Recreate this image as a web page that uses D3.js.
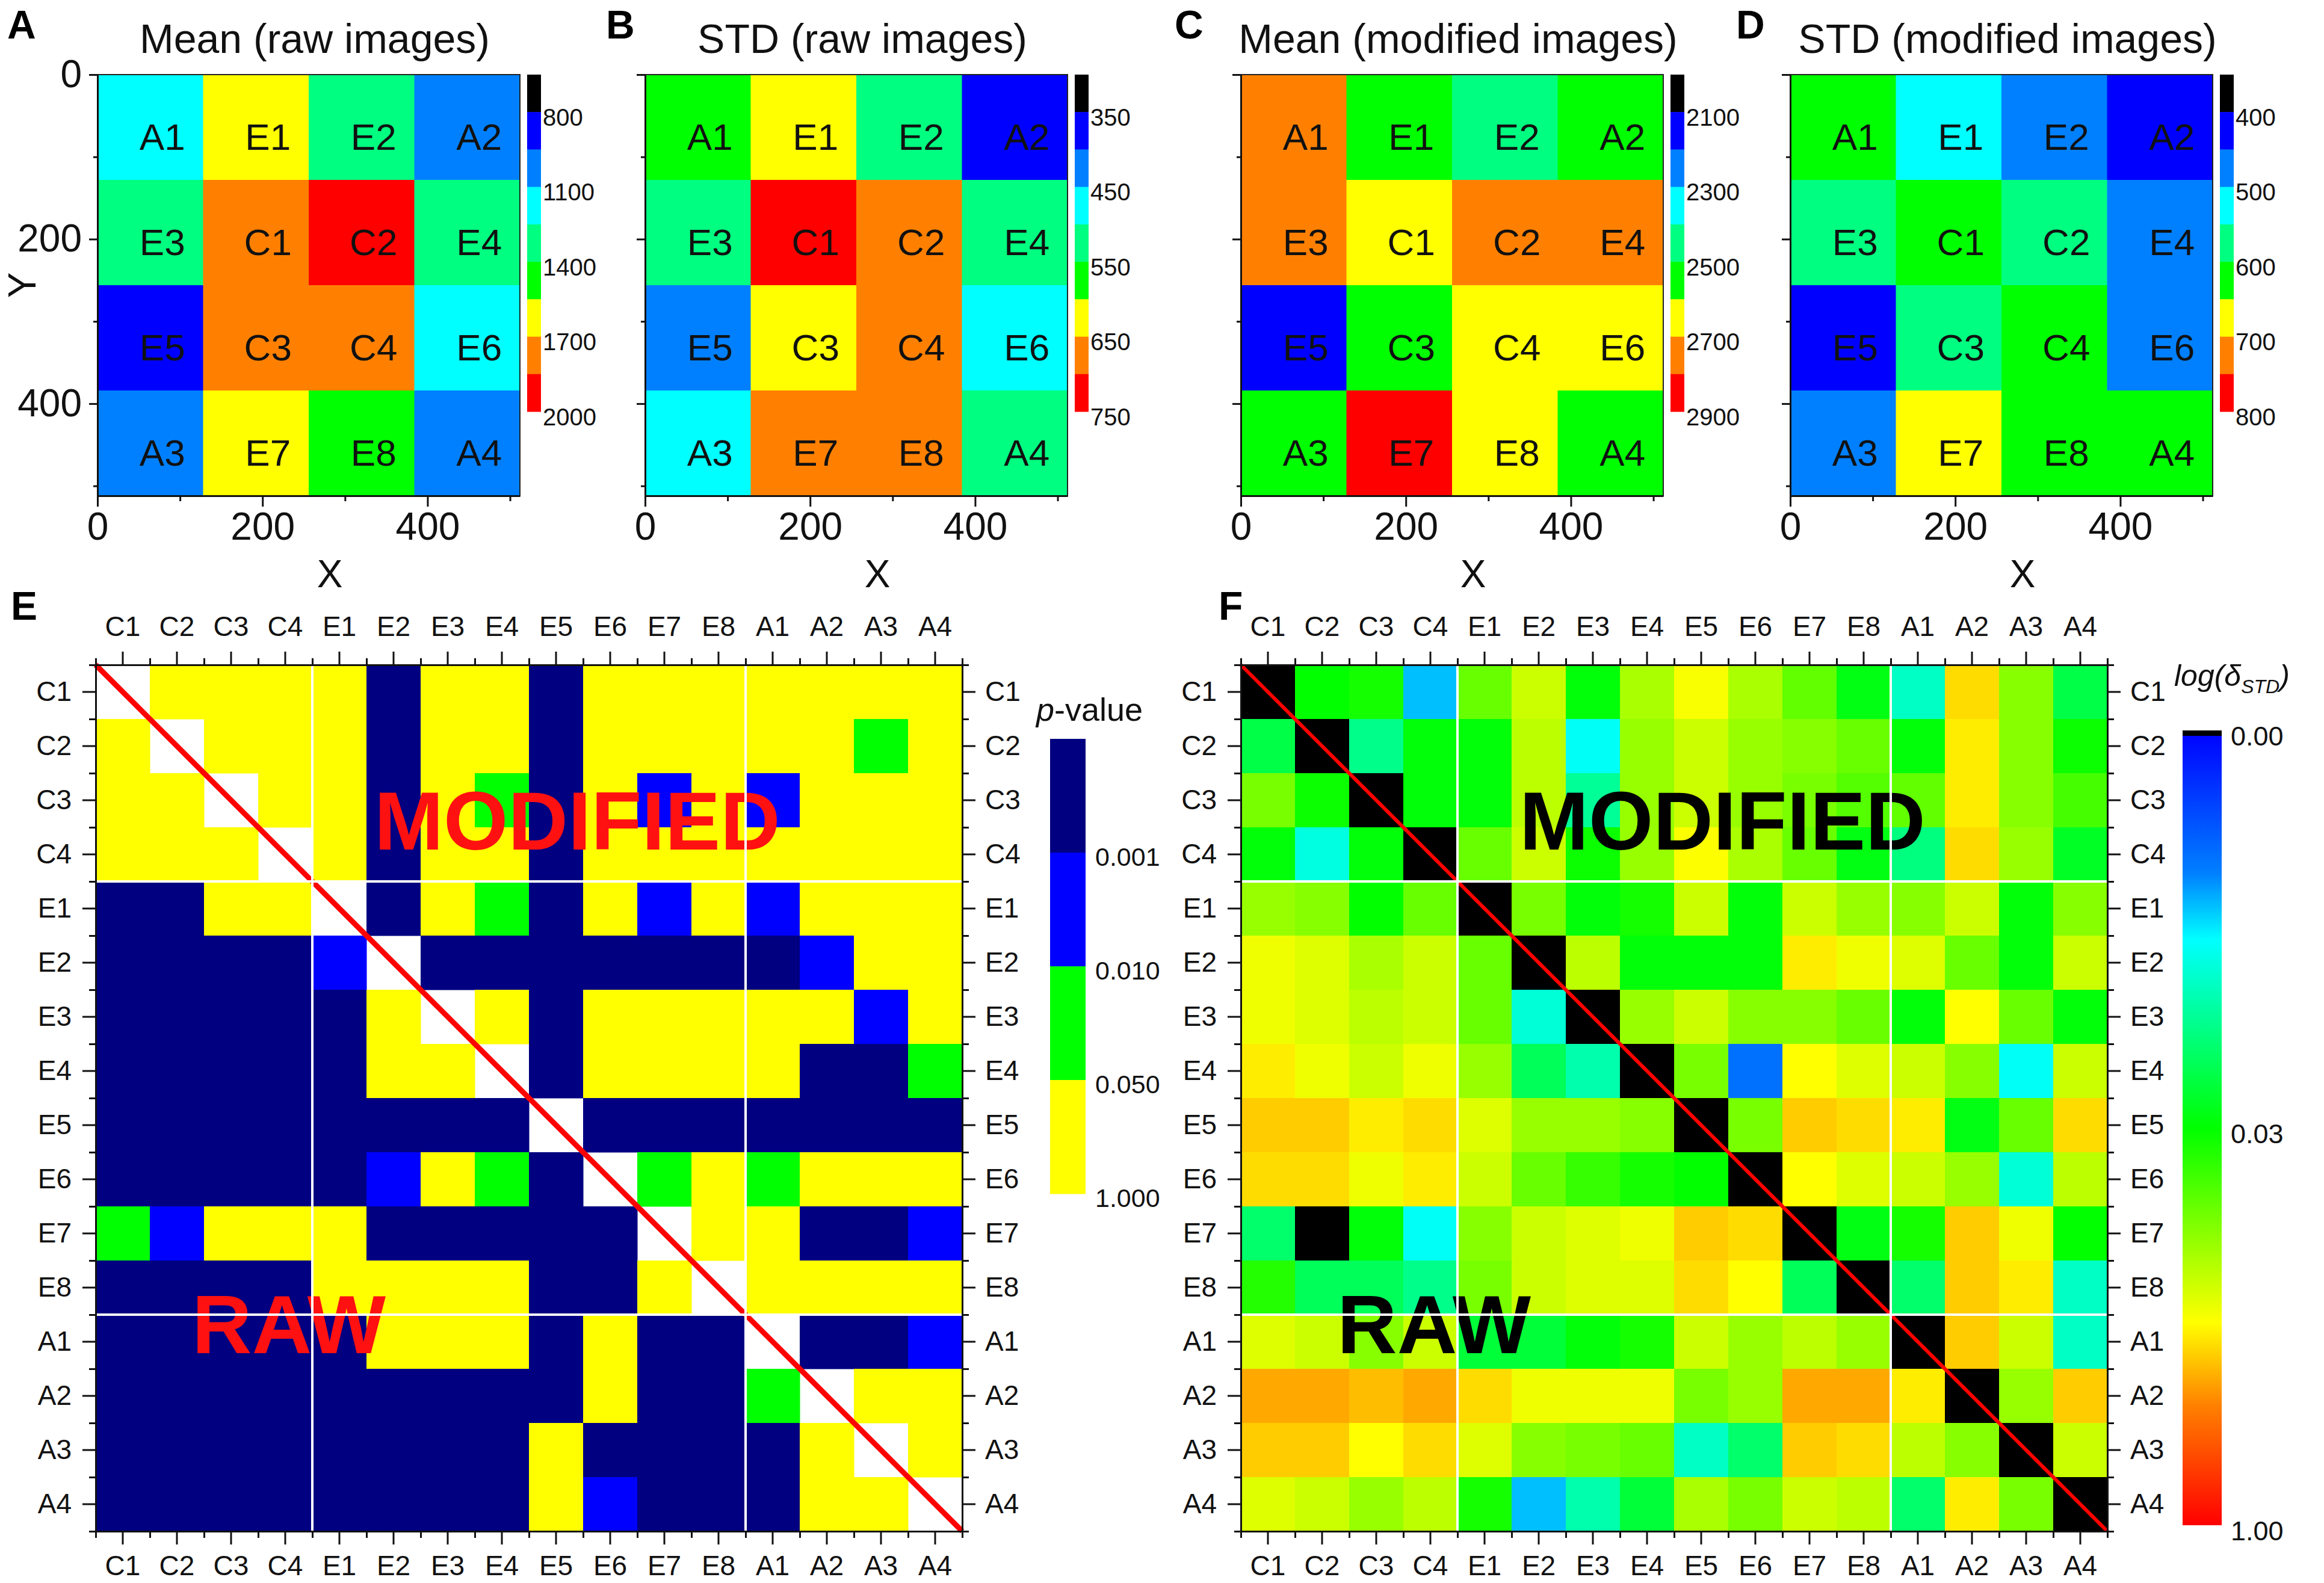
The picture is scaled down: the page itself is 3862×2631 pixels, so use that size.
<!DOCTYPE html>
<html>
<head>
<meta charset="utf-8">
<script src="https://cdn.jsdelivr.net/npm/d3@7"></script>
<style>
body { margin: 0; background: #fff; }
svg { display: block; }
</style>
</head>
<body>
<script>
// 4x4 layout of the sites, top row first (y = 0 at the top)
var gridNames = [["A1","E1","E2","A2"],["E3","C1","C2","E4"],["E5","C3","C4","E6"],["A3","E7","E8","A4"]];

// panel values
var meanRaw = [[1180,1620,1320,1020],[1330,1780,1920,1310],[880,1760,1770,1170],[1030,1610,1480,1010]];
var stdRaw  = [[575,625,530,380],[525,720,675,530],[430,620,670,470],[475,680,675,530]];
var meanMod = [[2750,2550,2460,2540],[2740,2650,2730,2720],[2160,2560,2660,2640],[2550,2840,2650,2560]];
var stdMod  = [[620,520,475,430],[575,625,570,480],[420,580,615,470],[480,670,620,630]];

var meanRawTicks = [800,1100,1400,1700,2000];
var stdRawTicks  = [350,450,550,650,750];
var meanModTicks = [2100,2300,2500,2700,2900];
var stdModTicks  = [400,500,600,700,800];
var xyTicks = [0,200,400];
var xyMinor = [100,300,500];

var matrixSites = ["C1","C2","C3","C4","E1","E2","E3","E4","E5","E6","E7","E8","A1","A2","A3","A4"];

// p-values: upper triangle = modified, lower = raw (null on the diagonal)
var pvalueRows = [
  [null,.4,.4,.4,.4,.0005,.4,.4,.0005,.4,.4,.4,.4,.4,.4,.4],
  [.4,null,.4,.4,.4,.0005,.4,.4,.0005,.4,.4,.4,.4,.4,.03,.4],
  [.4,.4,null,.4,.4,.0005,.4,.03,.0005,.4,.005,.4,.005,.4,.4,.4],
  [.4,.4,.4,null,.4,.0005,.4,.4,.0005,.4,.4,.4,.4,.4,.4,.4],
  [.0005,.0005,.4,.4,null,.0005,.4,.03,.0005,.4,.005,.4,.005,.4,.4,.4],
  [.0005,.0005,.0005,.0005,.005,null,.0005,.0005,.0005,.0005,.0005,.0005,.0005,.005,.4,.4],
  [.0005,.0005,.0005,.0005,.0005,.4,null,.4,.0005,.4,.4,.4,.4,.4,.005,.4],
  [.0005,.0005,.0005,.0005,.0005,.4,.4,null,.0005,.4,.4,.4,.4,.0005,.0005,.03],
  [.0005,.0005,.0005,.0005,.0005,.0005,.0005,.0005,null,.0005,.0005,.0005,.0005,.0005,.0005,.0005],
  [.0005,.0005,.0005,.0005,.0005,.005,.4,.03,.0005,null,.03,.4,.03,.4,.4,.4],
  [.03,.005,.4,.4,.4,.0005,.0005,.0005,.0005,.0005,null,.4,.4,.0005,.0005,.005],
  [.0005,.0005,.0005,.0005,.4,.4,.4,.4,.0005,.0005,.4,null,.4,.4,.4,.4],
  [.0005,.0005,.0005,.0005,.0005,.4,.4,.4,.0005,.4,.0005,.0005,null,.0005,.0005,.005],
  [.0005,.0005,.0005,.0005,.0005,.0005,.0005,.0005,.0005,.4,.0005,.0005,.03,null,.4,.4],
  [.0005,.0005,.0005,.0005,.0005,.0005,.0005,.0005,.4,.0005,.0005,.0005,.0005,.4,null,.4],
  [.0005,.0005,.0005,.0005,.0005,.0005,.0005,.0005,.4,.005,.0005,.0005,.0005,.4,.4,null]
];
var pBreaks = [0,0.001,0.01,0.05,1];

// delta_STD: upper triangle = modified, lower = raw (0 on the diagonal)
var deltaRows = [
  [0,.032,.036,.0046,.063,.122,.030,.098,.165,.098,.060,.028,.009,.21,.078,.020],
  [.020,0,.013,.030,.030,.11,.0065,.087,.122,.087,.078,.063,.030,.19,.078,.034],
  [.070,.034,0,.030,.030,.11,.012,.087,.122,.087,.070,.055,.060,.19,.078,.050],
  [.030,.0075,.030,0,.063,.122,.034,.087,.17,.098,.063,.028,.014,.21,.087,.025],
  [.087,.078,.032,.063,0,.070,.030,.036,.122,.030,.122,.087,.078,.122,.030,.078],
  [.155,.137,.098,.122,.063,0,.11,.030,.030,.030,.19,.155,.137,.063,.030,.122],
  [.155,.137,.11,.122,.063,.008,0,.087,.122,.078,.078,.063,.030,.172,.063,.030],
  [.19,.155,.122,.155,.087,.018,.0105,0,.070,.003,.172,.137,.122,.078,.0065,.122],
  [.23,.23,.19,.21,.137,.087,.087,.078,0,.070,.23,.21,.19,.028,.063,.21],
  [.21,.21,.155,.19,.122,.063,.045,.036,.032,0,.172,.137,.122,.087,.008,.11],
  [.016,0,.030,.0065,.078,.122,.137,.155,.23,.21,0,.028,.036,.23,.155,.032],
  [.040,.018,.018,.013,.070,.122,.137,.137,.21,.172,.018,0,.016,.23,.19,.009],
  [.137,.122,.078,.122,.022,.022,.030,.036,.122,.087,.11,.087,0,.23,.122,.009],
  [.28,.28,.25,.28,.21,.155,.155,.155,.070,.087,.28,.28,.19,0,.087,.23],
  [.23,.23,.172,.21,.137,.078,.070,.063,.009,.016,.23,.21,.11,.078,0,.122],
  [.137,.122,.087,.11,.036,.0046,.0105,.022,.098,.070,.122,.11,.016,.19,.070,0]
];
var deltaTicks = [0.001,0.0316,1];

var font = '"Liberation Sans", Arial, Helvetica, sans-serif';
var bandColors = ["#000000","#0000ff","#0080ff","#00ffff","#00ff80","#00ff00","#ffff00","#ff8000","#ff0000"];
var pColors = ["#000080","#0000ff","#00ff00","#ffff00"];
var rainbowStops = [0,0.18,0.263,0.5,0.745,0.85,1];
var rainbowColors = ["#0000ff","#0080ff","#00ffff","#00ff00","#ffff00","#ff8000","#ff0000"];

var svg = d3.select("body").append("svg")
    .attr("width", 3862).attr("height", 2631)
    .attr("font-family", font);
svg.append("rect").attr("width", 3862).attr("height", 2631).attr("fill", "#fff");
var defs = svg.append("defs");

function styleAxis(g, size) {
  g.attr("font-size", size).attr("font-family", font);
  g.select("path.domain").attr("stroke", "#111").attr("stroke-width", 3);
  g.selectAll(".tick line").attr("stroke", "#111").attr("stroke-width", 3);
  g.selectAll(".tick text").attr("fill", "#111");
  return g;
}

function panelLetter(txt, x, y) {
  svg.append("text").attr("x", x).attr("y", y).attr("font-size", 66)
    .attr("font-weight", "bold").text(txt);
}

// ---------- top row: A-D ----------
var topPanels = [
  {letter:"A", lx:12,   title:"Mean (raw images)",      values:meanRaw, ticks:meanRawTicks, x0:162,  ylab:true},
  {letter:"B", lx:1007, title:"STD (raw images)",       values:stdRaw,  ticks:stdRawTicks,  x0:1072},
  {letter:"C", lx:1952, title:"Mean (modified images)", values:meanMod, ticks:meanModTicks, x0:2062},
  {letter:"D", lx:2885, title:"STD (modified images)",  values:stdMod,  ticks:stdModTicks,  x0:2975}
];

topPanels.forEach(function(p) {
  var w = 702, h = 700, top = 124;
  var x = d3.scaleLinear().domain([0, 512]).range([p.x0, p.x0 + w]);
  var y = d3.scaleLinear().domain([0, 512]).range([top, top + h]);
  var step = (p.ticks[1] - p.ticks[0]) / 2;
  var color = d3.scaleThreshold()
      .domain(d3.range(p.ticks[0], p.ticks[4] - step / 2, step))
      .range(bandColors);

  var cells = [];
  gridNames.forEach(function(row, r) {
    row.forEach(function(name, c) { cells.push({name: name, r: r, c: c, v: p.values[r][c]}); });
  });
  var g = svg.append("g");
  g.selectAll("rect.cell").data(cells).enter().append("rect")
    .attr("x", function(d){ return x(d.c * 128); })
    .attr("y", function(d){ return y(d.r * 128); })
    .attr("width", x(128) - x(0) + 0.5)
    .attr("height", y(128) - y(0) + 0.5)
    .attr("fill", function(d){ return color(d.v); });
  g.selectAll("text.cell").data(cells).enter().append("text")
    .attr("x", function(d){ return x(d.c * 128 + 64) + 20; })
    .attr("y", function(d){ return y(d.r * 128 + 64) + 15; })
    .attr("dy", "0.36em").attr("text-anchor", "middle")
    .attr("font-size", 62).attr("fill", "#111")
    .text(function(d){ return d.name; });

  g.append("rect").attr("x", p.x0).attr("y", top).attr("width", w).attr("height", h)
    .attr("fill", "none").attr("stroke", "#222").attr("stroke-width", 2);

  var xa = g.append("g").attr("transform", "translate(0," + (top + h) + ")")
    .call(d3.axisBottom(x).tickValues(xyTicks).tickSize(18).tickSizeOuter(0).tickPadding(10));
  styleAxis(xa, 64);
  var xm = g.append("g").attr("transform", "translate(0," + (top + h) + ")")
    .call(d3.axisBottom(x).tickValues(xyMinor).tickSize(9).tickFormat(""));
  styleAxis(xm, 64).select("path.domain").remove();

  var ya = g.append("g").attr("transform", "translate(" + p.x0 + ",0)")
    .call(d3.axisLeft(y).tickValues(xyTicks).tickSize(14).tickSizeOuter(0).tickPadding(12)
      .tickFormat(p.ylab ? d3.format("d") : ""));
  styleAxis(ya, 64);
  var ym = g.append("g").attr("transform", "translate(" + p.x0 + ",0)")
    .call(d3.axisLeft(y).tickValues(xyMinor).tickSize(7).tickFormat(""));
  styleAxis(ym, 64).select("path.domain").remove();

  // colour bar
  var cbx = p.x0 + w + 12, cbw = 23;
  var cy = d3.scaleLinear().domain([p.ticks[0] - step, p.ticks[4]]).range([top, top + 560]);
  g.selectAll("rect.band").data(d3.range(p.ticks[0] - step, p.ticks[4] - step / 2, step)).enter().append("rect")
    .attr("x", cbx).attr("width", cbw)
    .attr("y", function(b){ return cy(b); })
    .attr("height", function(b){ return cy(b + step) - cy(b) + 0.5; })
    .attr("fill", function(b){ return color(b + step / 2); });
  var ca = g.append("g").attr("transform", "translate(" + (cbx + cbw) + ",0)")
    .call(d3.axisRight(cy).tickValues(p.ticks).tickSize(0).tickPadding(3).tickFormat(d3.format("d")));
  styleAxis(ca, 40);
  ca.select("path.domain").remove();
  ca.selectAll(".tick text").attr("dy", "0.55em");

  g.append("text").attr("x", p.x0 + w / 2 + 10).attr("y", 88)
    .attr("text-anchor", "middle").attr("font-size", 68).attr("fill", "#111").text(p.title);
  g.append("text").attr("x", p.x0 + w / 2 + 35).attr("y", 976)
    .attr("text-anchor", "middle").attr("font-size", 64).attr("fill", "#111").text("X");
  if (p.ylab) {
    g.append("text").attr("transform", "translate(36," + (top + h / 2) + ") rotate(-90)")
      .attr("text-anchor", "middle").attr("dy", "0.36em")
      .attr("font-size", 64).attr("fill", "#111").text("Y");
  }
  panelLetter(p.letter, p.lx, 64);
});

// ---------- bottom row: E and F ----------
function matrixPanel(opt) {
  var size = 1440, top = 1105, x0 = opt.x0;
  var bx = d3.scaleBand().domain(matrixSites).range([x0, x0 + size]);
  var by = d3.scaleBand().domain(matrixSites).range([top, top + size]);
  var n = matrixSites.length;
  var lx = d3.scaleLinear().domain([0, n]).range([x0, x0 + size]);
  var ly = d3.scaleLinear().domain([0, n]).range([top, top + size]);
  var g = svg.append("g");

  var cells = [];
  opt.rows.forEach(function(row, r) {
    row.forEach(function(v, c) { cells.push({row: matrixSites[r], col: matrixSites[c], v: v}); });
  });
  g.selectAll("rect.cell").data(cells.filter(function(d){ return d.v !== null; }))
    .enter().append("rect")
    .attr("x", function(d){ return bx(d.col); })
    .attr("y", function(d){ return by(d.row); })
    .attr("width", bx.bandwidth() + 0.5)
    .attr("height", by.bandwidth() + 0.5)
    .attr("fill", function(d){ return opt.color(d.v); });

  // diagonal
  g.append("line")
    .attr("x1", lx(0)).attr("y1", ly(0)).attr("x2", lx(n)).attr("y2", ly(n))
    .attr("stroke", "#ff0000").attr("stroke-width", opt.diagWidth);

  g.append("text").attr("x", x0 + 463).attr("y", 1412)
    .attr("font-size", 138).attr("font-weight", "bold").attr("fill", opt.wordColor).text("MODIFIED");
  g.append("text").attr("x", x0 + 160).attr("y", 2249)
    .attr("font-size", 138).attr("font-weight", "bold").attr("fill", opt.wordColor).text("RAW");

  // group separators
  ["E1","A1"].forEach(function(s) {
    g.append("line").attr("x1", bx(s)).attr("x2", bx(s)).attr("y1", top).attr("y2", top + size)
      .attr("stroke", "#fff").attr("stroke-width", 4);
    g.append("line").attr("y1", by(s)).attr("y2", by(s)).attr("x1", x0).attr("x2", x0 + size)
      .attr("stroke", "#fff").attr("stroke-width", 4);
  });

  var axes = [
    {ax: d3.axisTop(bx), mi: d3.axisTop(lx), t: "translate(0," + top + ")", pad: 26},
    {ax: d3.axisBottom(bx), mi: d3.axisBottom(lx), t: "translate(0," + (top + size) + ")", pad: 18},
    {ax: d3.axisLeft(by), mi: d3.axisLeft(ly), t: "translate(" + x0 + ",0)", pad: 18},
    {ax: d3.axisRight(by), mi: d3.axisRight(ly), t: "translate(" + (x0 + size) + ",0)", pad: 16}
  ];
  axes.forEach(function(a) {
    var ga = g.append("g").attr("transform", a.t)
      .call(a.ax.tickSize(22).tickSizeOuter(0).tickPadding(a.pad));
    styleAxis(ga, 46);
    var gm = g.append("g").attr("transform", a.t)
      .call(a.mi.tickValues(d3.range(n + 1)).tickSize(11).tickFormat(""));
    styleAxis(gm, 46).select("path.domain").remove();
  });

  panelLetter(opt.letter, opt.lx, 1030);
}

var pColor = d3.scaleThreshold().domain(pBreaks.slice(1, 4)).range(pColors);
matrixPanel({letter: "E", lx: 18, x0: 159, rows: pvalueRows, wordColor: "#ff1111", diagWidth: 9,
  color: function(v){ return pColor(v); }});

var tScale = d3.scaleLog().domain([0.001, 1]).range([0, 1]).clamp(true);
var rainbow = d3.scaleLinear().domain(rainbowStops).range(rainbowColors);
matrixPanel({letter: "F", lx: 2025, x0: 2062, rows: deltaRows, wordColor: "#000", diagWidth: 6,
  color: function(v){ return v === 0 ? "#000" : rainbow(tScale(v)); }});

// E colour bar (p-value)
var py = d3.scalePoint().domain(pBreaks).range([1228, 1984]);
svg.selectAll("rect.pband").data(pBreaks.slice(0, 4)).enter().append("rect")
  .attr("x", 1745).attr("width", 59)
  .attr("y", function(d){ return py(d); })
  .attr("height", py.step() + 0.5)
  .attr("fill", function(d, i){ return pColors[i]; });
var pa = svg.append("g").attr("transform", "translate(1804,0)")
  .call(d3.axisRight(py).tickValues(pBreaks.slice(1)).tickSize(0).tickPadding(16).tickFormat(d3.format(".3f")));
styleAxis(pa, 43);
pa.select("path.domain").remove();
pa.selectAll(".tick text").attr("dy", "0.5em");
var pt = svg.append("text").attr("x", 1722).attr("y", 1198).attr("font-size", 54).attr("fill", "#111");
pt.append("tspan").attr("font-style", "italic").text("p");
pt.append("tspan").text("-value");

// F colour bar (log delta)
var grad = defs.append("linearGradient").attr("id", "rainbow")
  .attr("x1", 0).attr("y1", 0).attr("x2", 0).attr("y2", 1);
rainbowStops.forEach(function(s, i) {
  grad.append("stop").attr("offset", s).attr("stop-color", rainbowColors[i]);
});
var fy = d3.scaleLog().domain([0.001, 1]).range([1214, 2535]);
svg.append("rect").attr("x", 3627).attr("y", fy(0.001)).attr("width", 65)
  .attr("height", fy(1) - fy(0.001)).attr("fill", "url(#rainbow)");
svg.append("rect").attr("x", 3627).attr("y", fy(0.001)).attr("width", 65).attr("height", 9).attr("fill", "#000");
var fa = svg.append("g").attr("transform", "translate(3692,0)")
  .call(d3.axisRight(fy).tickValues(deltaTicks).tickSize(0).tickPadding(15).tickFormat(d3.format(".2f")));
styleAxis(fa, 45);
fa.select("path.domain").remove();
fa.selectAll(".tick text").attr("dy", "0.55em");
var ft = svg.append("text").attr("x", 3613).attr("y", 1140).attr("font-size", 50)
  .attr("font-style", "italic").attr("fill", "#111");
ft.append("tspan").text("log(δ");
ft.append("tspan").attr("font-size", 32).attr("dy", 12).text("STD");
ft.append("tspan").attr("dy", -12).text(")");
</script>
</body>
</html>
